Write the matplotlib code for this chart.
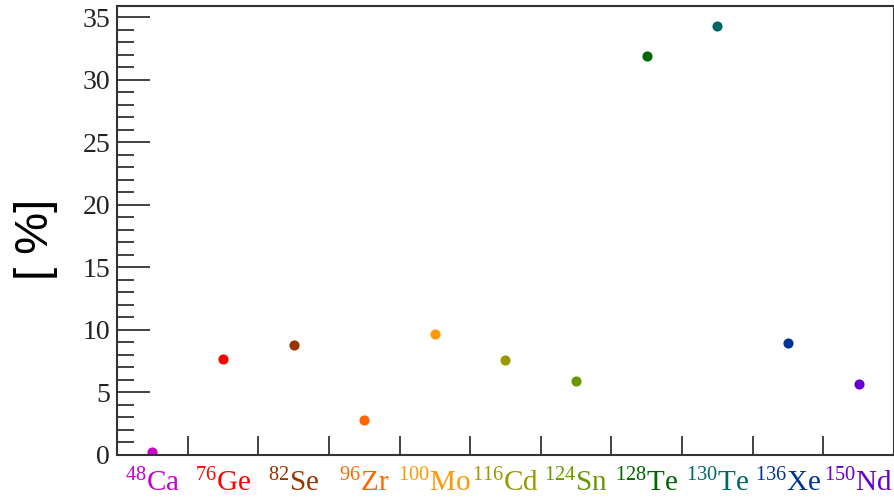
import matplotlib.pyplot as plt
from matplotlib.ticker import MultipleLocator

# isotopes and their natural abundance in percent
masses = ["48", "76", "82", "96", "100", "116", "124", "128", "130", "136", "150"]
elements = ["Ca", "Ge", "Se", "Zr", "Mo", "Cd", "Sn", "Te", "Te", "Xe", "Nd"]
abundance = [0.24, 7.67, 8.76, 2.81, 9.65, 7.59, 5.89, 31.92, 34.30, 8.98, 5.69]
colors = ["#cc00cc", "#ff0000", "#993300", "#ff6600", "#ff9900", "#999900",
          "#669900", "#006600", "#006666", "#003399", "#6600cc"]

plt.rcParams['mathtext.fontset'] = 'custom'
plt.rcParams['mathtext.rm'] = 'Liberation Serif'
plt.rcParams['mathtext.it'] = 'Liberation Serif:italic'

fig = plt.figure(figsize=(8.95, 4.97), dpi=100)
ax = fig.add_axes([117 / 895, 1 - 455 / 497, 777 / 895, 449 / 497])

n = len(abundance)
xs = [i + 0.5 for i in range(n)]
for x, y, c in zip(xs, abundance, colors):
    ax.plot(x, y, 'o', color=c, markersize=7.3, markeredgewidth=0)

ax.set_xlim(0, n)
ax.set_ylim(0, 35.9)

# category boundaries as ticks, labels in the middle of each bin
ax.set_xticks(range(1, n))
ax.set_xticklabels([])
ax.set_xticks(xs, minor=True)
labels = [r"$^{%s}\mathrm{%s}$" % (m, e) for m, e in zip(masses, elements)]
ax.set_xticklabels(labels, minor=True, fontsize=21)
for lab, c in zip(ax.get_xticklabels(minor=True), colors):
    lab.set_color(c)
ax.tick_params(axis='x', which='major', direction='in', length=14, width=1.3,
               color='#333333', top=False)
ax.tick_params(axis='x', which='minor', length=0, pad=10)

ax.yaxis.set_major_locator(MultipleLocator(5))
ax.yaxis.set_minor_locator(MultipleLocator(1))
ax.tick_params(axis='y', which='major', direction='in', length=24, width=1.3,
               color='#333333', labelsize=20, right=False, pad=5)
ax.tick_params(axis='y', which='minor', direction='in', length=12, width=1.3,
               color='#333333', right=False)
for lab in ax.get_yticklabels():
    lab.set_fontfamily('Liberation Serif')
    lab.set_color('#222222')

for s in ax.spines.values():
    s.set_linewidth(1.5)
    s.set_color('#333333')

ax.set_ylabel("[ %]", fontsize=34, fontfamily='Liberation Sans')
ax.yaxis.set_label_coords(-0.076, 0.481)

fig.savefig("out.png", dpi=100)
